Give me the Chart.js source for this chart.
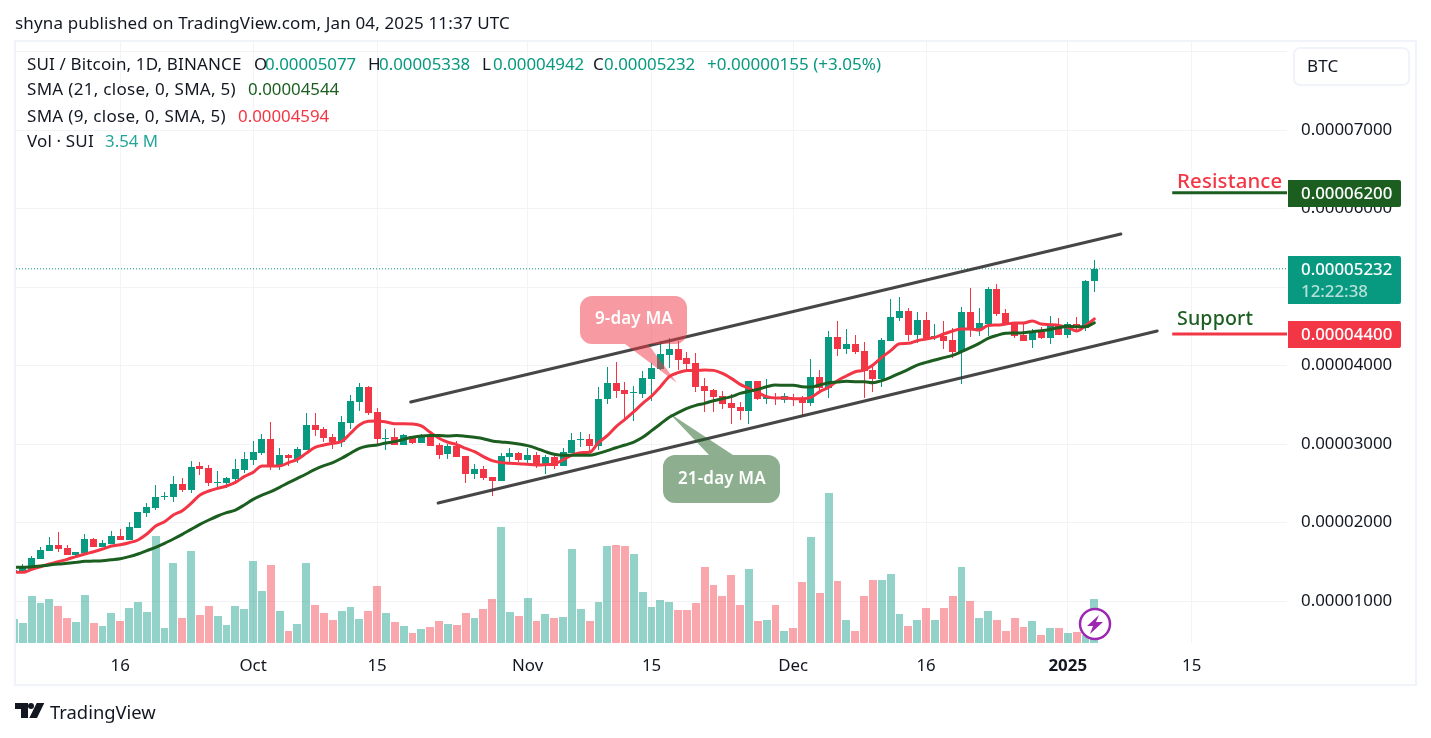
<!DOCTYPE html>
<html><head><meta charset="utf-8">
<script src="https://cdn.jsdelivr.net/npm/chart.js@4/dist/chart.umd.min.js"></script>
<style>
html,body{margin:0;padding:0;background:#fff;width:1431px;height:738px;overflow:hidden}
body{position:relative;font-family:"Noto Sans",sans-serif;color:#131722}
#c{position:absolute;left:0;top:0}
.t{position:absolute;white-space:nowrap;font-size:17px;line-height:20px;letter-spacing:.15px}
.w{letter-spacing:.3px}
.n{font-size:16.85px;letter-spacing:0}
.box{position:absolute;left:1288px;width:113px;border-radius:0 2px 2px 0;color:#fff}
#frame{position:absolute;left:14px;top:40px;width:1399px;height:642px;border:2px solid #f0f3fa}
#ov{position:absolute;left:0;top:0}
</style></head><body>
<canvas id="c" width="1431" height="738"></canvas>
<div id="frame"></div>
<svg id="ov" width="1431" height="738">
<path d="M592 296H675a12 12 0 0 1 12 12V332a12 12 0 0 1-12 12H648L677 383L625 344H592a12 12 0 0 1-12-12V308a12 12 0 0 1 12-12Z" fill="#f23645" fill-opacity=".5"/>
<path d="M675 455H709L669 413L733 455H768a12 12 0 0 1 12 12V491a12 12 0 0 1-12 12H675a12 12 0 0 1-12-12V467a12 12 0 0 1 12-12Z" fill="#1b5e20" fill-opacity=".5"/>
<circle cx="1095" cy="624" r="15" fill="#fff" stroke="#9c27b0" stroke-width="2.5"/>
<path d="M1099 615L1087 626H1093L1090 634L1103 622H1096Z" fill="#9c27b0"/>
<path d="M15 703H28V718H21V709H15Z M36.7 703H44.3L37 718H29.3Z" fill="#131722"/><circle cx="31" cy="706" r="3" fill="#131722"/>
</svg>
<div class="t" style="left:15px;top:13px">shyna published on TradingView.com, Jan 04, 2025 11:37 UTC</div>
<div class="t" style="left:27px;top:54px">SUI / Bitcoin, 1D, BINANCE</div>
<div class="t" style="left:254px;top:54px">O</div><div class="t n" style="left:265px;top:54px;color:#089981">0.00005077</div>
<div class="t" style="left:368px;top:54px">H</div><div class="t n" style="left:379px;top:54px;color:#089981">0.00005338</div>
<div class="t" style="left:482px;top:54px">L</div><div class="t n" style="left:493px;top:54px;color:#089981">0.00004942</div>
<div class="t" style="left:593px;top:54px">C</div><div class="t n" style="left:604px;top:54px;color:#089981">0.00005232</div>
<div class="t n" style="left:707px;top:54px;color:#089981;font-size:17px">+0.00000155 (+3.05%)</div>
<div class="t w" style="left:27px;top:79px">SMA (21, close, 0, SMA, 5)</div><div class="t n" style="left:248px;top:79px;color:#1b5e20">0.00004544</div>
<div class="t w" style="left:27px;top:106px">SMA (9, close, 0, SMA, 5)</div><div class="t n" style="left:238px;top:106px;color:#f23645">0.00004594</div>
<div class="t" style="left:27px;top:131px">Vol · SUI</div><div class="t n" style="left:105px;top:131px;color:#26a69a">3.54 M</div>
<div style="position:absolute;left:1293px;top:47px;width:113px;height:35px;border:2px solid #f0f3fa;border-radius:7px;background:#fff"></div>
<div class="t" style="left:1307px;top:56px">BTC</div>
<div class="box" style="top:180px;height:27px;background:#1b5e20"></div><div class="t n" style="left:1301px;top:183px;color:#fff;font-weight:500">0.00006200</div>
<div class="box" style="top:256px;height:48px;background:#089981"></div><div class="t n" style="left:1301px;top:259px;color:#fff;font-weight:500">0.00005232</div><div class="t n" style="left:1301px;top:281px;color:#b5e0d9;font-weight:500">12:22:38</div>
<div class="box" style="top:321px;height:27px;background:#f23645"></div><div class="t n" style="left:1301px;top:324px;color:#fff;font-weight:500">0.00004400</div>
<div class="t" style="left:1177px;top:169px;color:#f23645;font-size:20.4px;line-height:22px;font-weight:500">Resistance</div>
<div class="t" style="left:1177px;top:307px;color:#1b5e20;font-size:19.6px;line-height:22px;font-weight:500">Support</div>
<div class="t" style="left:595px;top:308px;color:#fff;font-weight:600">9-day MA</div>
<div class="t" style="left:678px;top:468px;color:#fff;font-weight:600">21-day MA</div>
<div class="t" style="left:50px;top:702px;font-size:18.4px;letter-spacing:0">TradingView</div>
<script>
// price values in units of 0.00000001 BTC
const opens=[1356,1386,1408,1539,1637,1713,1675,1586,1608,1790,
1684,1726,1828,1777,1930,2121,2184,2324,2324,2490,
2414,2720,2694,2503,2503,2554,2669,2796,2885,3064,
2720,2860,2809,2923,3242,3191,3089,3025,3268,3535,
3726,3407,3064,3089,2987,3102,3013,3115,2987,2873,
2975,2847,2618,2682,2580,2529,2834,2885,2796,2860,
2745,2834,2720,2885,3051,3064,2975,3573,3777,3688,
3650,3637,3828,3956,4134,4210,4096,4032,3739,3688,
3611,3522,3471,3420,3803,3573,3599,3560,3586,3586,
3522,3854,3713,4363,4210,4274,4185,3943,3828,4312,
4605,4695,4388,4580,4350,4376,4325,4172,4682,4465,
4529,4975,4669,4529,4388,4325,4427,4350,4516,4388,
4529,4478,5077];
const closes=[1395,1429,1548,1649,1713,1666,1586,1624,1790,1688,
1739,1828,1777,1943,2134,2197,2324,2333,2490,2414,
2707,2682,2503,2516,2567,2682,2809,2898,3064,2720,
2860,2822,2936,3242,3178,3076,3025,3280,3548,3726,
3395,3064,3076,2987,3115,3013,3089,2975,2860,2975,
2834,2618,2682,2567,2529,2847,2885,2796,2860,2720,
2834,2720,2898,3051,3064,2975,3573,3777,3675,3637,
3662,3841,3968,4147,4210,4070,4019,3726,3675,3599,
3509,3458,3420,3803,3573,3599,3586,3611,3573,3522,
3854,3713,4363,4210,4274,4172,3930,3828,4325,4618,
4695,4388,4580,4350,4376,4312,4172,4682,4452,4542,
4975,4656,4516,4376,4312,4427,4350,4503,4388,4529,
4478,5077,5232];
const highs=[1400,1471,1573,1684,1811,1875,1713,1624,1854,1803,
1777,1892,1917,2002,2134,2249,2478,2388,2592,2567,
2783,2771,2732,2656,2580,2809,2898,3038,3128,3277,
2949,2873,2962,3395,3395,3216,3128,3356,3624,3777,
3739,3458,3191,3204,3128,3102,3128,3140,3013,3000,
3038,2847,2745,2720,2580,2885,2949,2898,2949,2898,
2860,2860,2949,3140,3153,3128,3726,3981,4045,3790,
3739,3930,4032,4312,4350,4312,4172,4159,3841,3700,
3675,3637,3535,3803,3803,3828,3650,3650,3637,3611,
4083,3943,4440,4567,4465,4389,4299,4019,4350,4847,
4873,4733,4682,4682,4529,4567,4478,4745,4987,4733,
5000,5038,4720,4529,4529,4465,4490,4631,4605,4554,
4618,5089,5338];
const lows=[1350,1373,1395,1535,1637,1628,1586,1552,1599,1688,
1684,1726,1777,1777,1930,2074,2159,2286,2261,2388,
2376,2605,2465,2452,2439,2490,2630,2732,2860,2669,
2669,2720,2758,2923,3102,3025,2936,2962,3191,3420,
3369,2975,2923,2987,2987,3000,3013,2975,2809,2809,
2834,2503,2554,2541,2338,2529,2758,2771,2758,2694,
2618,2682,2720,2885,2962,2898,2923,3510,3586,3306,
3293,3586,3548,3943,3968,3943,3943,3662,3408,3408,
3446,3255,3306,3255,3560,3510,3497,3522,3484,3356,
3484,3688,3586,4121,4147,4147,3586,3662,3726,4312,
4567,4312,4286,4350,4325,4210,4096,3764,4363,4376,
4376,4631,4516,4350,4312,4223,4338,4274,4388,4350,
4427,4440,4942];
const ma9=[1369,1365,1403,1437,1471,1501,1531,1565,1599,1628,
1662,1700,1717,1743,1777,1853,1955,2010,2095,2151,
2244,2350,2401,2435,2465,2511,2584,2639,2720,2720,
2720,2762,2805,2882,2958,2988,3009,3034,3136,3242,
3289,3293,3281,3259,3259,3255,3230,3149,3073,3022,
2992,2945,2903,2839,2788,2763,2754,2750,2741,2733,
2737,2746,2797,2860,2890,2894,3019,3106,3221,3314,
3412,3518,3611,3730,3858,3909,3938,3938,3943,3938,
3900,3836,3760,3709,3654,3603,3586,3586,3578,3578,
3595,3667,3722,3807,3866,3921,3942,4006,4104,4189,
4278,4282,4316,4337,4359,4401,4439,4465,4465,4452,
4511,4516,4528,4541,4541,4567,4528,4520,4511,4486,
4439,4507,4594];
const ma21=[1429,1429,1437,1446,1459,1471,1480,1492,1505,1509,
1514,1526,1539,1565,1599,1641,1684,1734,1790,1849,
1913,1976,2032,2083,2125,2159,2223,2295,2350,2393,
2448,2507,2562,2618,2678,2724,2763,2818,2882,2945,
2975,2988,3013,3030,3060,3085,3102,3107,3107,3102,
3107,3098,3085,3068,3039,3026,3017,3000,2979,2945,
2903,2869,2856,2856,2856,2856,2881,2915,2953,2987,
3025,3085,3170,3255,3340,3399,3454,3492,3518,3552,
3577,3603,3645,3671,3696,3730,3752,3747,3747,3730,
3726,3752,3781,3790,3798,3794,3794,3781,3807,3849,
3900,3951,4006,4040,4070,4100,4129,4176,4227,4282,
4346,4384,4410,4414,4418,4431,4443,4460,4482,4499,
4494,4494,4544];
// volume in millions of SUI
const volumes=[1.90,1.58,3.76,3.19,3.51,2.95,1.99,1.66,3.84,1.58,
1.34,2.39,1.74,2.79,3.27,2.47,8.59,1.18,6.41,1.99,
7.38,2.23,2.95,2.15,1.42,2.95,2.71,6.57,4.16,6.25,
2.55,0.94,1.50,6.44,3.06,2.41,1.85,2.58,2.90,1.93,
2.58,4.59,2.41,1.69,1.37,0.80,1.13,1.29,1.77,1.53,
1.45,2.41,2.01,2.74,3.54,9.34,2.50,2.17,3.62,1.77,
2.33,2.01,2.09,7.57,2.74,1.77,3.30,7.81,7.89,7.81,
7.16,4.10,2.90,3.46,3.30,2.66,2.66,3.22,6.12,4.67,
3.78,5.47,3.06,5.96,1.77,1.85,3.06,0.97,1.21,4.91,
8.53,4.02,12.07,4.99,1.85,0.97,3.78,5.07,5.07,5.55,
2.33,1.37,1.85,2.82,1.85,2.82,3.78,6.12,3.38,2.01,
2.58,1.85,0.97,2.01,1.29,1.77,0.64,1.21,1.21,0.80,
0.89,0.64,3.54];
// day index counted from Sep 4 2024
const tickDays=[12,27,41,58,72,88,103,119,133];
const tickLabels=['16','Oct','15','Nov','15','Dec','16','2025','15'];
const priceTicks=[1000,2000,3000,4000,5000,6000,7000,8000];
const hiddenPriceLabel=8000;
const upperChannel=[[44.8,3535],[125,5675]];
const lowerChannel=[[47.9,2248],[129.1,4440]];
const resistance=6200, support=4400, lastPrice=5232;
const dayMin=0.226, dayMax=143.76;
const priceMin=465, priceMax=8134, volMax=48.46;

const UP='#089981', DOWN='#f23645', UPV='rgba(8,153,129,.44)', DOWNV='rgba(242,54,69,.44)';
const isUp=closes.map((c,i)=>c>=opens[i]);
const pts=a=>a.map((y,x)=>({x,y}));
const hline=(from,v)=>[{x:from,y:v},{x:dayMax,y:v}];
const seg=a=>a.map(p=>({x:p[0],y:p[1]}));
const line=(data,color,width,order,extra)=>Object.assign({type:'line',data,borderColor:color,borderWidth:width,pointRadius:0,tension:0,order,yAxisID:'y',borderCapStyle:'round',borderJoinStyle:'round'},extra||{});
const smooth={cubicInterpolationMode:'monotone'};

// keep bars on whole pixels with an even 1px gap between volume bars, as the reference does
const crisp={id:'crisp',afterDatasetUpdate(chart,args){
  const ds=chart.data.datasets[args.index];
  if(!ds.crisp)return;
  const els=args.meta.data, step=chart.scales.x.getPixelForValue(1)-chart.scales.x.getPixelForValue(0);
  els.forEach(el=>{
    if(ds.crisp==='gap'){
      const left=Math.round(el.x-step/2+0.5), next=Math.round(el.x+step/2+0.5);
      el.width=next-left-1;
      el.x=left+el.width/2;
    } else {
      el.x=Math.floor(el.x)+0.5;
    }
    el.y=Math.round(el.y);
    el.base=Math.round(el.base);
  });
}};

new Chart(document.getElementById('c'),{
  plugins:[crisp],
  data:{datasets:[
    {type:'bar',label:'Vol',yAxisID:'v',order:9,crisp:'gap',barThickness:8,grouped:false,inflateAmount:0,
     data:volumes.map((y,x)=>({x,y})),backgroundColor:isUp.map(u=>u?UPV:DOWNV)},
    line(hline(dayMin,lastPrice),UP,1,8,{borderDash:[1,2],borderCapStyle:'butt'}),
    {type:'bar',label:'Wick',yAxisID:'y',order:7,crisp:'odd',barThickness:1,grouped:false,inflateAmount:0,
     data:highs.map((h,x)=>({x,y:[lows[x],h]})),backgroundColor:isUp.map(u=>u?UP:DOWN)},
    {type:'bar',label:'Body',yAxisID:'y',order:6,crisp:'odd',barThickness:7,grouped:false,inflateAmount:0,
     data:opens.map((o,x)=>({x,y:[o,closes[x]]})),backgroundColor:isUp.map(u=>u?UP:DOWN)},
    line(pts(ma9),DOWN,3,5,smooth),
    line(pts(ma21),'#1b5e20',3,4,smooth),
    line(seg(upperChannel),'rgba(50,50,50,.9)',3,3),
    line(seg(lowerChannel),'rgba(50,50,50,.9)',3,3),
    line(hline(130.8,resistance),'#1b5e20',3,2,{borderCapStyle:'butt'}),
    line(hline(130.8,support),DOWN,3,2,{borderCapStyle:'butt'})
  ]},
  options:{
    responsive:false,animation:false,
    layout:{padding:{left:16,top:41,right:15,bottom:53}},
    plugins:{legend:{display:false},tooltip:{enabled:false}},
    scales:{
      x:{type:'linear',offset:false,min:dayMin,max:dayMax,
        grid:{color:'#f2f3f7',lineWidth:1,drawTicks:false,offset:false},border:{display:false},
        afterBuildTicks:s=>{s.ticks=tickDays.map(value=>({value}))},
        afterFit:s=>{s.height=42},
        ticks:{autoSkip:false,maxRotation:0,padding:13,color:'#131722',
          font:c=>({family:'"Noto Sans"',size:16.85,weight:c.index===7?'700':'400'}),
          callback:(v,i)=>tickLabels[i]}},
      y:{type:'linear',position:'right',min:priceMin,max:priceMax,
        grid:{color:'#f2f3f7',lineWidth:1,drawTicks:false},border:{display:false},
        afterBuildTicks:s=>{s.ticks=priceTicks.map(value=>({value}))},
        afterFit:s=>{s.width=129},
        ticks:{padding:14,color:'#131722',crossAlign:'near',font:{family:'"Noto Sans"',size:16.85},
          callback:v=>v===hiddenPriceLabel?'':(v/1e8).toFixed(8)}},
      v:{type:'linear',display:false,min:0,max:volMax}
    }
  }
});
</script>
</body></html>
